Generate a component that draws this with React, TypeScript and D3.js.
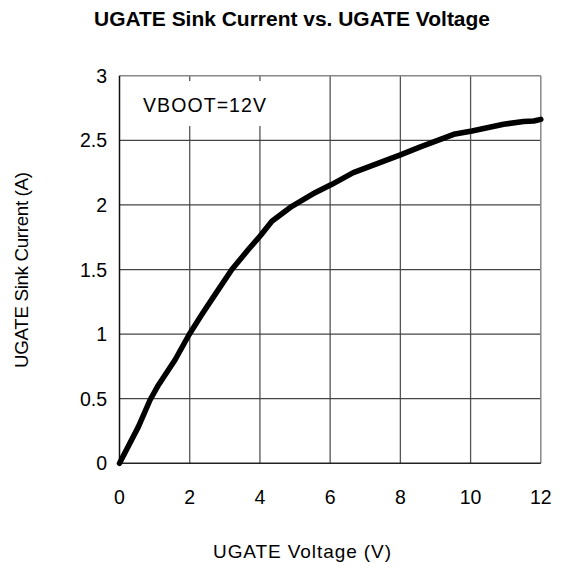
import React from "react";
import * as d3 from "d3";

const voltage = [0, 0.54, 0.87, 1.11, 1.58, 1.98, 2.34, 2.72, 3.2, 3.67, 4.0, 4.34, 4.91, 5.57, 6.05, 6.66, 8.02, 8.57, 9.52, 10.04, 10.94, 11.51, 11.8, 12];
const current = [0, 0.284, 0.49, 0.607, 0.8, 0.995, 1.15, 1.306, 1.5, 1.655, 1.758, 1.874, 1.99, 2.095, 2.16, 2.25, 2.39, 2.45, 2.547, 2.573, 2.625, 2.646, 2.65, 2.663];
const xTicks = [0, 2, 4, 6, 8, 10, 12];
const yTicks = [0, 0.5, 1, 1.5, 2, 2.5, 3];
const title = "UGATE Sink Current vs. UGATE Voltage";
const xLabel = "UGATE Voltage (V)";
const yLabel = "UGATE Sink Current (A)";
const note = "VBOOT=12V";

const W = 565, H = 569;
const left = 119.5, right = 540.8, top = 75.8, bottom = 463.3;

export default function App() {
  const x = d3.scaleLinear().domain([0, 12]).range([left, right]);
  const y = d3.scaleLinear().domain([0, 3]).range([bottom, top]);
  const pts = voltage.map((v, i) => [v, current[i]] as [number, number]);
  const line = d3.line<[number, number]>().x(d => x(d[0])).y(d => y(d[1])).curve(d3.curveLinear);
  const font = "'Liberation Sans', Arial, Helvetica, sans-serif";
  return (
    <svg width={W} height={H} style={{ position: "absolute", left: 0, top: 0, background: "#fff" }} fontFamily={font}>
      <rect width={W} height={H} fill="#fff" />
      {xTicks.slice(1, -1).map(t => (
        <line key={"vx" + t} x1={x(t)} x2={x(t)} y1={top} y2={bottom} stroke="#555" strokeWidth={1.3} />
      ))}
      {yTicks.slice(1, -1).map(t => (
        <line key={"hy" + t} x1={left} x2={right} y1={y(t)} y2={y(t)} stroke="#444" strokeWidth={1.3} />
      ))}
      <line x1={left} x2={right} y1={top} y2={top} stroke="#888" strokeWidth={1.5} />
      <line x1={right} x2={right} y1={top} y2={bottom} stroke="#888" strokeWidth={1.5} />
      <rect x={left + 1} y={81} width={170} height={45} fill="#fff" />
      <line x1={left} x2={left} y1={top} y2={bottom} stroke="#111" strokeWidth={1.5} />
      <line x1={left} x2={right} y1={bottom} y2={bottom} stroke="#222" strokeWidth={1.5} />
      <text x={143} y={111.5} fontSize={19.5} fill="#000" textLength={123}>{note}</text>
      <path d={line(pts) || ""} fill="none" stroke="#000" strokeWidth={5.5} strokeLinejoin="round" strokeLinecap="round" />
      {yTicks.map(t => (
        <text key={"yl" + t} x={107} y={y(t) + 7} fontSize={19.5} textAnchor="end" fill="#000">{t}</text>
      ))}
      {xTicks.map(t => (
        <text key={"xl" + t} x={x(t)} y={504} fontSize={19.5} textAnchor="middle" fill="#000">{t}</text>
      ))}
      <text x={292} y={26} fontSize={20} fontWeight="bold" textAnchor="middle" fill="#000" textLength={396} lengthAdjust="spacingAndGlyphs">{title}</text>
      <text x={302} y={558} fontSize={19} textAnchor="middle" fill="#000" textLength={178}>{xLabel}</text>
      <text transform={`translate(28.3,270) rotate(-90)`} fontSize={18.8} textAnchor="middle" fill="#000" textLength={196}>{yLabel}</text>
    </svg>
  );
}
